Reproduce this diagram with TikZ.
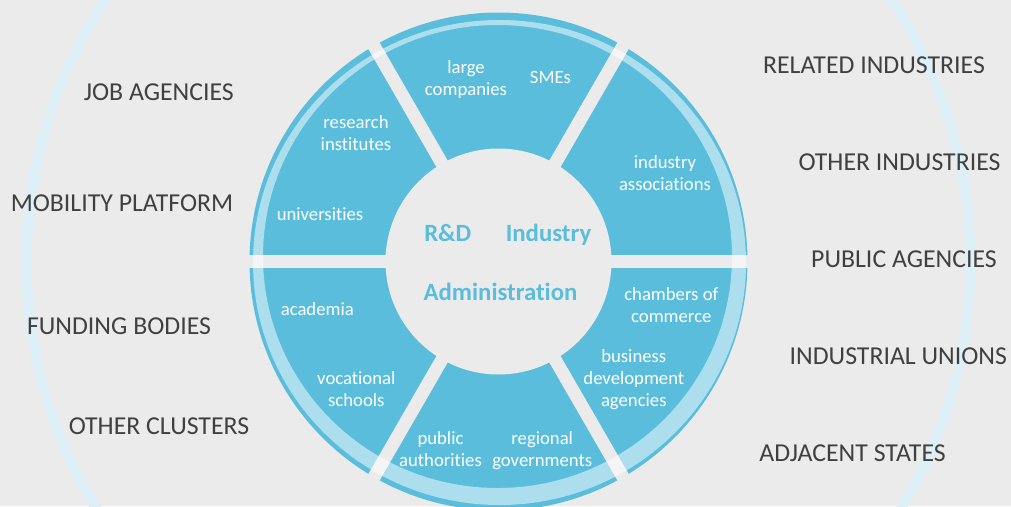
\documentclass[tikz,border=0pt]{standalone}
\usepackage{fontspec}
\setmainfont{Carlito}[Ligatures=NoCommon]
\definecolor{bggray}{HTML}{EBEBEB}
\definecolor{clusterblue}{HTML}{5BBDDC}
\definecolor{faintblue}{HTML}{DDF0F8}
\definecolor{labelgray}{HTML}{404040}

\begin{document}
\begin{tikzpicture}[x=1pt,y=-1pt,
  outer/.style={text=labelgray,font={\fontsize{25.8}{30}\selectfont},anchor=base},
  seg/.style={text=white,font={\fontsize{18.7}{22}\selectfont},align=center,anchor=base},
  hub/.style={text=clusterblue,font={\fontsize{24.8}{30}\selectfont\bfseries},anchor=base},
  gap/.style={draw=bggray,line width=13pt}]
  \fill[bggray] (0,0) rectangle (1011,506);
  \useasboundingbox (0,0) rectangle (1011,506);
  \coordinate (c) at (498.5,261.5);
  \begin{scope}
    \clip (0,0) rectangle (1011,506);
    \draw[faintblue,line width=10pt] (c) circle [radius=472];
    \fill[clusterblue] (c) circle [radius=249];
  \end{scope}
  \foreach \a in {0,60,120}
    \draw[gap] (c) ++(\a:256) -- ++(\a+180:512);
  \fill[bggray] (c) circle [radius=113];
  \fill[white,opacity=0.5,even odd rule]
    (499.5,262.5) ellipse [x radius=246.5,y radius=242.5]
    (497.5,256.5) ellipse [x radius=234.5,y radius=231.5];

  \node[hub] (rd) at (447.8,241.7) {R\&D};
  \node[hub] (industry) at (548.5,241.7) {Industry};
  \node[hub] (admin) at (500.5,300) {Administration};

  \node[seg] (large) at (466,95) {large\\companies};
  \node[seg] (smes) at (550.5,83.3) {SMEs};
  \node[seg] (research) at (356,150.7) {research\\institutes};
  \node[seg] (univ) at (320,220) {universities};
  \node[seg] (assoc) at (665,190) {industry\\associations};
  \node[seg] (academia) at (317.3,315) {academia};
  \node[seg] (vocational) at (356.3,406) {vocational\\schools};
  \node[seg] (public) at (440.5,466) {public\\authorities};
  \node[seg] (regional) at (542.2,466) {regional\\governments};
  \node[seg] (chambers) at (671.3,322) {chambers of\\commerce};
  \node[seg] (business) at (633.8,406) {business\\development\\agencies};

  \node[outer] (jobag) at (158.8,100) {JOB AGENCIES};
  \node[outer] (mobility) at (122,211.5) {MOBILITY PLATFORM};
  \node[outer] (funding) at (119,334) {FUNDING BODIES};
  \node[outer] (clusters) at (159,434) {OTHER CLUSTERS};
  \node[outer] (related) at (874,73.5) {RELATED INDUSTRIES};
  \node[outer] (otherind) at (899.5,170.5) {OTHER INDUSTRIES};
  \node[outer] (pubag) at (904,267.5) {PUBLIC AGENCIES};
  \node[outer] (unions) at (898.3,364) {INDUSTRIAL UNIONS};
  \node[outer] (adjacent) at (852.5,461.5) {ADJACENT STATES};
\end{tikzpicture}
\end{document}
